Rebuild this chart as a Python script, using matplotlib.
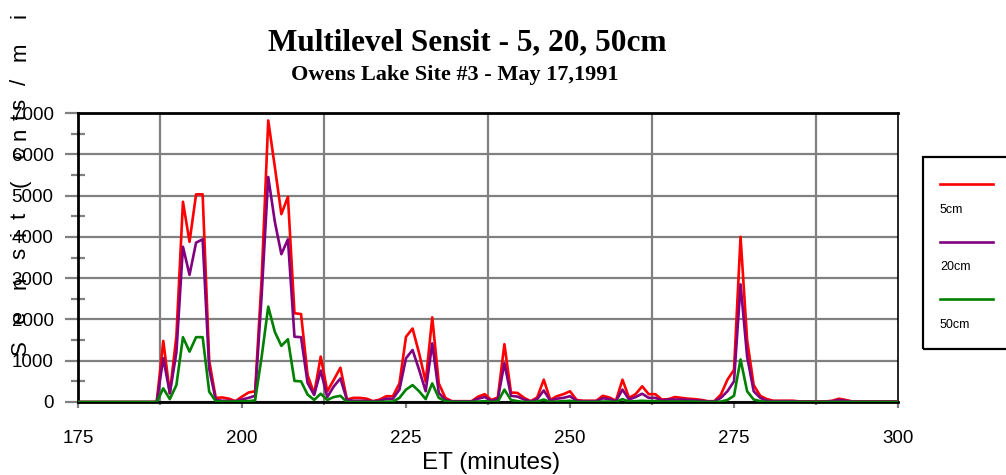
import matplotlib
matplotlib.use("Agg")
import matplotlib.pyplot as plt
from matplotlib.ticker import MultipleLocator
from matplotlib.lines import Line2D
from matplotlib.patches import Rectangle

# Data: counts per minute, ET 175..300
minutes = list(range(175, 301))
sensit_5cm = [
    0, 0, 0, 0, 0,
    0, 0, 0, 0, 0, 0, 0, 0, 1480, 210,
    1600, 4850, 3880, 5030, 5030, 1000, 100, 110, 80, 20,
    130, 230, 260, 3000, 6820, 5700, 4550, 4970, 2150, 2130,
    650, 200, 1100, 260, 540, 830, 60, 100, 100, 80,
    20, 60, 140, 140, 450, 1580, 1780, 1180, 490, 2050,
    450, 100, 20, 20, 20, 20, 130, 190, 50, 110,
    1400, 230, 220, 100, 20, 110, 540, 50, 140, 190,
    260, 50, 30, 30, 30, 150, 110, 30, 540, 100,
    190, 380, 190, 190, 60, 70, 120, 100, 80, 70,
    50, 20, 20, 180, 540, 780, 4000, 1500, 410, 150,
    70, 30, 30, 30, 30, 15, 15, 15, 15, 15,
    30, 80, 50, 15, 15, 15, 15, 15, 15, 15,
    15,
]
sensit_20cm = [
    0, 0, 0, 0, 0,
    0, 0, 0, 0, 0, 0, 0, 0, 1060, 210,
    1200, 3760, 3080, 3860, 3940, 800, 50, 30, 30, 20,
    60, 100, 150, 2600, 5450, 4370, 3580, 3940, 1580, 1570,
    460, 170, 760, 120, 380, 570, 50, 30, 30, 30,
    15, 30, 80, 80, 300, 1060, 1260, 780, 260, 1420,
    220, 50, 15, 15, 15, 15, 80, 120, 30, 70,
    940, 150, 130, 60, 15, 70, 280, 30, 80, 100,
    140, 30, 20, 20, 20, 90, 70, 20, 300, 60,
    120, 200, 100, 100, 40, 60, 60, 60, 50, 40,
    30, 15, 15, 100, 260, 500, 2850, 1100, 260, 100,
    30, 20, 20, 20, 20, 10, 10, 10, 10, 10,
    20, 50, 30, 10, 10, 10, 10, 10, 10, 10,
    10,
]
sensit_50cm = [
    0, 0, 0, 0, 0,
    0, 0, 0, 0, 0, 0, 0, 0, 330, 70,
    410, 1570, 1220, 1570, 1570, 250, 20, 10, 10, 10,
    20, 20, 40, 1100, 2310, 1700, 1360, 1520, 510, 500,
    180, 50, 200, 50, 120, 150, 0, 0, 0, 0,
    0, 0, 10, 10, 100, 300, 410, 260, 70, 450,
    100, 20, 0, 0, 0, 0, 10, 20, 0, 10,
    300, 50, 20, 0, 0, 10, 60, 0, 10, 20,
    30, 0, 0, 0, 0, 10, 10, 0, 70, 10,
    20, 30, 20, 20, 10, 10, 10, 10, 10, 10,
    0, 0, 0, 10, 50, 150, 1030, 260, 60, 20,
    0, 0, 0, 0, 0, 0, 0, 0, 0, 0,
    0, 0, 0, 0, 0, 0, 0, 0, 0, 0,
    0,
]
series_labels = ["5cm", "20cm", "50cm"]
series_colors = ["#ff0000", "#800080", "#008000"]

W, H = 1006, 475
fig = plt.figure(figsize=(W / 100, H / 100), dpi=100)
ax = fig.add_axes([78 / W, 1 - 402 / H, 820 / W, 289 / H])

for vals, col in zip([sensit_5cm, sensit_20cm, sensit_50cm], series_colors):
    ax.plot(minutes, vals, color=col, lw=1.9, zorder=3)

ax.set_xlim(175, 300)
ax.set_ylim(0, 7000)
ax.xaxis.set_major_locator(MultipleLocator(25))
ax.xaxis.set_minor_locator(MultipleLocator(12.5))
ax.yaxis.set_major_locator(MultipleLocator(1000))
ax.yaxis.set_minor_locator(MultipleLocator(500))

grey = "#808080"
ax.grid(which="minor", axis="x", color=grey, lw=1.6, zorder=1)
ax.grid(which="major", axis="y", color=grey, lw=1.6, zorder=1)
ax.set_axisbelow(True)

ax.tick_params(axis="y", which="major", direction="out", length=9.5, width=1.6,
               color=grey, labelsize=13.5, pad=8)
ax.tick_params(axis="y", which="minor", direction="inout", length=9.5, width=1.6,
               color=grey)
ax.tick_params(axis="x", which="major", direction="out", length=4.5, width=1.6,
               color=grey, labelsize=13.5, pad=16)
ax.tick_params(axis="x", which="minor", direction="out", length=2.5, width=1.6,
               color=grey)
for lab in ax.get_xticklabels() + ax.get_yticklabels():
    lab.set_family("Liberation Sans")

for side in ["left", "top", "bottom"]:
    ax.spines[side].set_linewidth(2)
    ax.spines[side].set_color("black")
ax.spines["right"].set_linewidth(1.2)
ax.spines["right"].set_color("black")

fig.text(491 / W, 1 - 463 / H, "ET (minutes)", ha="center", va="center",
         fontsize=17.5, family="Liberation Sans")

# scattered vertical y-axis label
ylabel_chars = [("S", 348), ("e", 317), ("n", 283), ("s", 253), ("i", 234),
                ("t", 216), ("(", 183), ("c", 152), ("n", 134), ("t", 117),
                ("s", 104), ("/", 82), ("m", 52), ("i", 16)]
for ch, py in ylabel_chars:
    fig.text(20 / W, 1 - py / H, ch, rotation=90, ha="center", va="center",
             fontsize=16, family="Liberation Sans")

fig.text(467 / W, 1 - 43 / H, "Multilevel Sensit - 5, 20, 50cm", ha="center",
         va="center", fontsize=22.5, fontweight="bold", family="Liberation Serif")
fig.text(455 / W, 1 - 75 / H, "Owens Lake Site #3 - May 17,1991", ha="center",
         va="center", fontsize=16, fontweight="bold", family="Liberation Serif")

# legend box
fig.add_artist(Rectangle((923 / W, 1 - 349 / H), 90 / W, 192 / H,
                         transform=fig.transFigure, fill=False, ec="black", lw=1.6))
for i, (lab, col) in enumerate(zip(series_labels, series_colors)):
    ly = 184 + i * 57.5
    fig.add_artist(Line2D([940 / W, 993 / W], [1 - ly / H, 1 - ly / H],
                          transform=fig.transFigure, color=col, lw=1.9))
    fig.text(940 / W, 1 - (ly + 26) / H, lab, ha="left", va="center",
             fontsize=9, family="Liberation Sans")

fig.savefig("out.png", dpi=100)
